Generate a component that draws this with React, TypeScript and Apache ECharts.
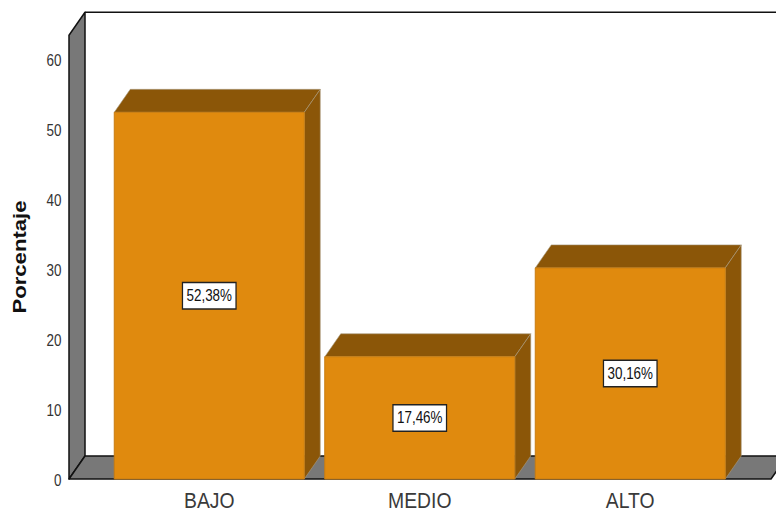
import React, { useEffect, useRef } from "react";
import * as echarts from "echarts";

const categories = ["BAJO", "MEDIO", "ALTO"];
const percentages = [52.38, 17.46, 30.16];
const labels = ["52,38%", "17,46%", "30,16%"];
const yTicks = [0, 10, 20, 30, 40, 50, 60];
const yTitle = "Porcentaje";
const wallTop = 63.4;

const FONT = "'Liberation Sans', Arial, sans-serif";
const NARROW = 0.84;
const DX = 16;
const DY = -23;
const ORANGE = "#E08A0E";
const DARK = "#8B5608";
const GREY = "#787878";

function renderBox(params: any, api: any) {
  const i = params.dataIndex;
  const v = api.value(1);
  const base = api.coord([i, 0]);
  const top = api.coord([i, v]);
  const bw = api.size([1, 0])[0] * (190 / 210.5);
  const l = base[0] - bw / 2;
  const r = base[0] + bw / 2;
  return {
    type: "group",
    children: [
      { type: "polygon", shape: { points: [[l, top[1]], [r, top[1]], [r + DX, top[1] + DY], [l + DX, top[1] + DY]] }, style: { fill: DARK, stroke: "#a89a80", lineWidth: 0.6 } },
      { type: "polygon", shape: { points: [[r, top[1]], [r + DX, top[1] + DY], [r + DX, base[1] + DY], [r, base[1]]] }, style: { fill: DARK, stroke: "#a89a80", lineWidth: 0.6 } },
      { type: "rect", shape: { x: l, y: top[1], width: bw, height: base[1] - top[1] }, style: { fill: ORANGE, stroke: "#c87c10", lineWidth: 1 } },
      {
        type: "text",
        x: base[0],
        y: (base[1] + top[1]) / 2,
        scaleX: NARROW,
        style: {
          text: labels[i],
          font: `16px ${FONT}`,
          fill: "#111",
          align: "center",
          verticalAlign: "middle",
          backgroundColor: "#fff",
          borderColor: "#222",
          borderWidth: 1.5,
          padding: [5, 4, 4, 4],
        },
      },
      {
        type: "text",
        x: base[0],
        y: base[1] + 21,
        scaleX: 0.88,
        style: {
          text: categories[i],
          font: `22px ${FONT}`,
          fill: "#3a3a3a",
          align: "center",
          verticalAlign: "middle",
        },
      },
    ],
  };
}

function renderFrame(params: any, api: any) {
  if (params.dataIndex !== 0) return null;
  const floorL = api.coord([0, 0]);
  const topL = api.coord([0, wallTop]);
  const x0 = 69;
  const x1 = 771;
  const y0 = floorL[1];
  const yT = topL[1];
  const line = { stroke: "#111", lineWidth: 1.5, lineJoin: "round" };
  return {
    type: "group",
    children: [
      { type: "polygon", shape: { points: [[x0, y0], [x0 + DX, y0 + DY], [x0 + DX, yT + DY], [x0, yT]] }, style: { fill: GREY, ...line } },
      { type: "polygon", shape: { points: [[x0, y0], [x1, y0], [x1 + DX, y0 + DY], [x0 + DX, y0 + DY]] }, style: { fill: GREY, ...line } },
      { type: "line", shape: { x1: x0 + DX, y1: yT + DY, x2: 790, y2: yT + DY }, style: line },
      {
        type: "text",
        x: 20,
        y: 257,
        rotation: Math.PI / 2,
        scaleX: 1.23,
        style: { text: yTitle, font: `bold 18px ${FONT}`, fill: "#111", align: "center", verticalAlign: "middle" },
      },
      ...yTicks.map((t) => ({
        type: "text",
        x: 61.5,
        y: api.coord([0, t])[1] + 2,
        scaleX: NARROW,
        style: { text: String(t), font: `16px ${FONT}`, fill: "#333", align: "right", verticalAlign: "middle" },
      })),
    ],
  };
}

export default function App() {
  const ref = useRef<HTMLDivElement>(null);
  useEffect(() => {
    const chart = echarts.init(ref.current!, null, { renderer: "svg" });
    chart.setOption({
      animation: false,
      backgroundColor: "#fff",
      grid: { left: 104, top: 59, width: 631.5, height: 420, outerBoundsMode: "none" },
      xAxis: {
        type: "category",
        data: categories,
        axisLine: { show: false },
        axisTick: { show: false },
        axisLabel: { show: false },
      },
      yAxis: {
        type: "value",
        min: yTicks[0],
        max: yTicks[yTicks.length - 1],
        interval: 10,
        splitLine: { show: false },
        axisLine: { show: false },
        axisTick: { show: false },
        axisLabel: { show: false },
      },
      series: [
        {
          type: "custom",
          silent: true,
          clip: false,
          renderItem: renderFrame,
          data: categories.map((c, i) => [i, percentages[i]]),
          z: 1,
        },
        {
          type: "custom",
          silent: true,
          clip: false,
          renderItem: renderBox,
          data: categories.map((c, i) => [i, percentages[i]]),
          encode: { x: 0, y: 1 },
          z: 2,
        },
      ],
    });
    return () => chart.dispose();
  }, []);
  return <div ref={ref} style={{ width: 776, height: 512, position: "absolute", left: 0, top: 0 }} />;
}
